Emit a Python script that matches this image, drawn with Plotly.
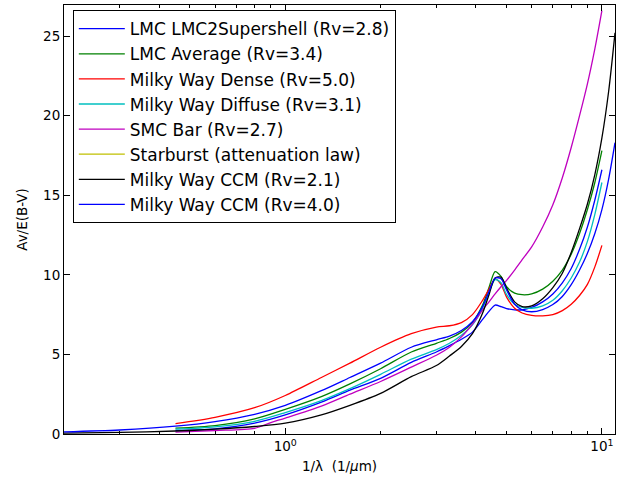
import plotly.graph_objects as go

# Wavenumber grid (1/micron) shared by the observed extinction curves
x_obs = [0.45, 0.6, 0.8, 1.0, 1.3, 1.6, 2.0, 2.5, 3.0, 3.3, 3.6, 3.9, 4.2, 4.4,
         4.6, 4.8, 5.0, 5.3, 5.6, 6.0, 6.5, 7.0, 7.5, 8.0, 8.5, 9.0, 9.5, 10.0]

lmc2_y = [0.22, 0.32, 0.68, 1.2, 2.0, 2.75, 3.5, 4.5, 5.15, 5.55, 5.95, 6.4, 7.2, 7.7,
          8.1, 8.0, 7.88, 7.8, 7.8, 7.95, 8.3, 8.8, 9.5, 10.4, 11.6, 13.0, 14.7, 16.6]
lmcavg_y = [0.37, 0.53, 0.95, 1.55, 2.35, 3.15, 4.1, 5.15, 5.7, 6.0, 6.4, 7.0, 8.1, 9.2,
            10.2, 9.9, 9.25, 8.85, 8.75, 8.8, 9.1, 9.6, 10.3, 11.3, 12.6, 14.1, 15.8, 17.8]
mwdense_y = [0.65, 1.05, 1.65, 2.42, 3.55, 4.45, 5.45, 6.3, 6.72, 6.8, 7.0, 7.5, 8.4, 9.1,
             9.75, 9.4, 8.6, 7.9, 7.6, 7.45, 7.42, 7.5, 7.75, 8.15, 8.7, 9.4, 10.5, 11.85]
mwdiff_y = [0.3, 0.45, 0.8, 1.35, 2.1, 2.85, 3.75, 4.7, 5.3, 5.7, 6.2, 6.85, 7.9, 8.9,
            9.7, 9.5, 8.75, 8.15, 7.95, 7.9, 8.05, 8.4, 9.0, 9.8, 10.8, 12.1, 13.8, 15.8]

x_smc = [0.45, 0.6, 0.8, 0.9, 1.0, 1.3, 1.6, 2.0, 2.5, 3.0, 3.3, 3.6, 3.9, 4.2, 4.4,
         4.6, 4.8, 5.0, 5.3, 5.6, 6.0, 6.5, 7.0, 7.5, 8.0, 8.5, 9.0, 9.5, 10.0]
smc_y = [0.12, 0.22, 0.36, 0.72, 1.0, 1.75, 2.5, 3.3, 4.2, 4.95, 5.45, 6.1, 6.9, 7.8, 8.3,
         8.8, 9.25, 9.65, 10.3, 10.95, 11.75, 13.0, 14.4, 16.1, 18.0, 20.0, 22.0, 24.2, 26.6]

# Starburst attenuation law: no points fall on this grid (legend entry only)
x_sb = [None]
sb_y = [None]

# CCM parametrised curves cover a wider range
x_ccm = [0.2, 0.3, 0.45, 0.6, 0.8, 1.0, 1.3, 1.6, 2.0, 2.5, 3.0, 3.3, 3.6, 3.9, 4.2, 4.4,
         4.6, 4.8, 5.0, 5.3, 5.6, 6.0, 6.5, 7.0, 7.5, 8.0, 8.5, 9.0, 9.5, 10.0, 10.5, 11.0]
ccm21_y = [0.05, 0.1, 0.19, 0.3, 0.47, 0.68, 1.2, 1.8, 2.55, 3.6, 4.3, 4.9, 5.5, 6.3, 7.6, 8.75,
           9.8, 9.85, 9.15, 8.3, 8.0, 8.05, 8.5, 9.2, 10.1, 11.4, 12.9, 14.45, 16.3, 18.6, 21.5, 25.2]
ccm40_y = [0.13, 0.25, 0.49, 0.78, 1.24, 1.8, 2.72, 3.55, 4.45, 5.45, 5.92, 6.15, 6.5, 7.05, 8.0, 8.95,
           9.8, 9.75, 9.05, 8.15, 7.8, 7.68, 7.82, 8.13, 8.64, 9.38, 10.3, 11.35, 12.6, 14.1, 16.0, 18.3]

series = [
    ("LMC LMC2Supershell (Rv=2.8)", x_obs, lmc2_y, "#0000ff"),
    ("LMC Average (Rv=3.4)", x_obs, lmcavg_y, "#008000"),
    ("Milky Way Dense (Rv=5.0)", x_obs, mwdense_y, "#ff0000"),
    ("Milky Way Diffuse (Rv=3.1)", x_obs, mwdiff_y, "#00bfbf"),
    ("SMC Bar (Rv=2.7)", x_smc, smc_y, "#bf00bf"),
    ("Starburst (attenuation law)", x_sb, sb_y, "#bfbf00"),
    ("Milky Way CCM (Rv=2.1)", x_ccm, ccm21_y, "#000000"),
    ("Milky Way CCM (Rv=4.0)", x_ccm, ccm40_y, "#0000ff"),
]

FONT = "DejaVu Sans"

fig = go.Figure()
for name, xv, yv, col in series:
    fig.add_trace(go.Scatter(
        x=xv, y=yv, name=name, mode="lines",
        line=dict(color=col, width=1.3, shape="spline", smoothing=0.8),
    ))

minor_x = [0.2, 0.3, 0.4, 0.5, 0.6, 0.7, 0.8, 0.9, 2, 3, 4, 5, 6, 7, 8, 9]

fig.update_layout(
    width=624, height=478, autosize=False,
    margin=dict(l=64, r=9, t=5, b=44),
    paper_bgcolor="white", plot_bgcolor="white",
    font=dict(family=FONT, size=13.5, color="black"),
    showlegend=True,
    legend=dict(
        x=0.016, y=0.988, xanchor="left", yanchor="top",
        bgcolor="white", bordercolor="black", borderwidth=1,
        font=dict(family=FONT, size=17, color="black"),
        itemwidth=46, traceorder="normal",
    ),
    xaxis=dict(
        type="log", range=[-0.69897, 1.04139],
        showline=True, linecolor="black", linewidth=1, mirror="allticks",
        ticks="inside", ticklen=6, tickcolor="black",
        tickvals=[1, 10], ticktext=["10<sup>0</sup>", "10<sup>1</sup>"],
        minor=dict(ticks="inside", ticklen=3, tickcolor="black", tickvals=minor_x, showgrid=False),
        showgrid=False, zeroline=False,
        title=dict(text="1/λ  (1/<i>μ</i>m)", standoff=8, font=dict(size=13.5)),
    ),
    yaxis=dict(
        range=[0, 26.95],
        showline=True, linecolor="black", linewidth=1, mirror="allticks",
        ticks="inside", ticklen=6, tickcolor="black",
        tickvals=[0, 5, 10, 15, 20, 25],
        showgrid=False, zeroline=False,
        title=dict(text="Av/E(B-V)", standoff=12, font=dict(size=13.5)),
    ),
)

fig.write_html("out.html")
